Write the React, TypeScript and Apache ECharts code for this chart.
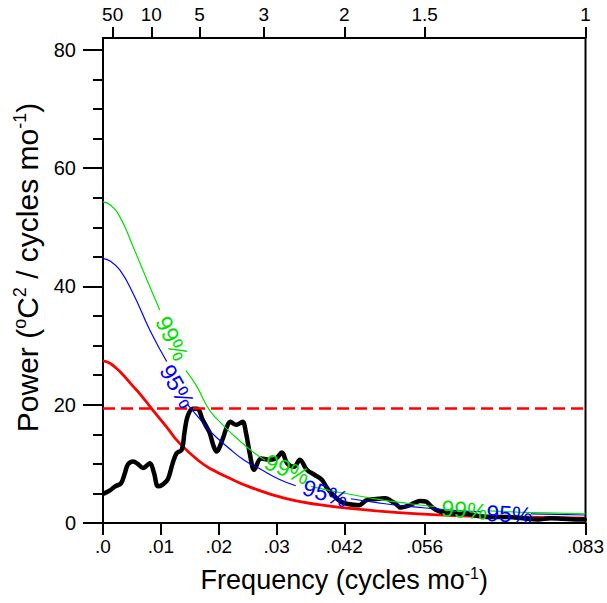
import { useEffect, useRef } from 'react';
import * as echarts from 'echarts';

// ---------- DATA ----------
const freqTickValues = [0, 0.01, 0.02, 0.03, 1 / 24, 1 / 18, 1 / 12];
const freqTickLabels = ['.0', '.01', '.02', '.03', '.042', '.056', '.083'];
const periodTickValues = [1 / 600, 1 / 120, 1 / 60, 1 / 36, 1 / 24, 1 / 18, 1 / 12];
const periodTickLabels = ['50', '10', '5', '3', '2', '1.5', '1'];
const powerMajorTicks = [0, 20, 40, 60, 80];
const powerMinorTicks = [5, 10, 15, 25, 30, 35, 45, 50, 55, 65, 70, 75];

// sample spectrum [frequency, power]
const spectrum: [number, number][] = [
  [0.0002, 5.0], [0.0012, 5.5], [0.0021, 6.2], [0.0031, 6.7], [0.0038, 8.5], [0.0043, 9.9],
  [0.0052, 10.4], [0.0060, 10.0], [0.0069, 9.3], [0.0081, 10.1], [0.0088, 8.5], [0.0095, 6.2],
  [0.0103, 6.5], [0.0112, 7.4], [0.0120, 10.0], [0.0127, 11.8], [0.0136, 12.4], [0.0141, 15.5],
  [0.0146, 18.0], [0.0155, 19.3], [0.0163, 19.3], [0.0172, 17.5], [0.0179, 16.2], [0.0184, 15.3],
  [0.0191, 13.0], [0.0196, 12.1], [0.0206, 14.0], [0.0213, 16.0], [0.0220, 17.1], [0.0230, 16.6],
  [0.0241, 17.1], [0.0247, 15.2], [0.0254, 11.5], [0.0261, 9.0], [0.0273, 10.9], [0.0287, 10.7],
  [0.0299, 10.9], [0.0309, 11.9], [0.0318, 10.1], [0.0330, 9.5], [0.0340, 10.7], [0.0352, 9.0],
  [0.0366, 8.1], [0.0378, 7.3], [0.0387, 5.9], [0.0399, 4.6], [0.0411, 3.6], [0.0423, 3.2],
  [0.0442, 3.0], [0.0454, 3.8], [0.0464, 4.0], [0.0476, 4.1], [0.0488, 4.2], [0.0498, 3.7],
  [0.0505, 3.3], [0.0514, 2.6], [0.0527, 2.9], [0.0538, 3.4], [0.0548, 3.7], [0.0558, 3.6],
  [0.0567, 2.8], [0.0574, 2.3], [0.0584, 1.9], [0.0601, 1.6], [0.0625, 1.6], [0.0648, 1.2],
  [0.0674, 1.0], [0.0699, 1.0], [0.0725, 0.8], [0.0751, 0.6], [0.0773, 0.8], [0.0794, 0.7],
  [0.0816, 0.6], [0.0832, 0.6],
];

// theoretical red-noise spectrum
const redNoise: [number, number][] = [
  [0, 27.4], [0.0012, 27.0], [0.0029, 25.6], [0.0052, 23.1], [0.0064, 21.8], [0.0086, 19.1],
  [0.0110, 16.2], [0.0132, 13.5], [0.0167, 10.4], [0.0189, 9.0], [0.0218, 7.6], [0.0253, 6.1],
  [0.0313, 4.2], [0.0373, 3.1], [0.0418, 2.55], [0.0510, 1.75], [0.0596, 1.3], [0.0682, 1.05],
  [0.0833, 0.8],
];

// 95% confidence curve (null = gap for inline label)
const conf95: ([number, number] | null)[] = [
  [0, 44.7], [0.0012, 44.3], [0.0029, 42.8], [0.0052, 38.8], [0.0081, 32.6], [0.0110, 27.3],
  null,
  [0.0146, 20.0], [0.0167, 17.6], [0.0184, 15.6], [0.0218, 12.6], [0.0244, 10.6], [0.0270, 9.2],
  [0.0304, 7.4], [0.0333, 6.3],
  null,
  [0.0428, 4.1], [0.0476, 3.4], [0.0527, 2.8], [0.0574, 2.4], [0.0613, 2.1], [0.0655, 1.9],
  null,
  [0.0739, 1.55], [0.0785, 1.45], [0.0833, 1.35],
];

// 99% confidence curve
const conf99: ([number, number] | null)[] = [
  [0, 54.3], [0.0012, 53.8], [0.0029, 51.8], [0.0052, 46.7], [0.0076, 41.1], [0.0098, 36.0],
  null,
  [0.0143, 25.8], [0.0162, 23.1], [0.0184, 19.1], [0.0213, 16.0], [0.0235, 14.0], [0.0258, 12.1],
  [0.0280, 10.6],
  null,
  [0.0359, 6.2], [0.0407, 5.2], [0.0476, 4.0], [0.0527, 3.3], [0.0574, 2.75],
  null,
  [0.0668, 2.05], [0.0716, 1.85], [0.0768, 1.7], [0.0833, 1.55],
];

const markovLevel = 19.4;

// inline curve labels
const inlineLabelText = ['99%', '95%', '99%', '95%', '99%', '95%'];
const inlineLabelFreq = [0.01194, 0.0128, 0.0318, 0.0384, 0.0624, 0.0702];
const inlineLabelPower = [31.2, 23.1, 9.1, 5.0, 2.2, 1.5];
const inlineLabelAngle = [64, 60, 22, 17, 5, 3];

const FONT = '"Liberation Sans", Arial, Helvetica, sans-serif';
const GREEN = '#00e000';
const BLUE = '#0000ff';
const RED = '#ff0000';

const toSeriesData = (arr: ([number, number] | null)[]) =>
  arr.map((p) => (p === null ? [null, null] : p));

export default function App() {
  const ref = useRef<HTMLDivElement>(null);

  useEffect(() => {
    document.body.style.margin = '0';
    if (!ref.current) return;
    const chart = echarts.init(ref.current, undefined, { renderer: 'svg' });

    const axisLineStyle = { color: '#000', width: 2 };
    const option: any = {
      animation: false,
      backgroundColor: '#fff',
      grid: {
        left: 103, right: 19, top: 38, bottom: 80,
        show: true, borderColor: '#000', borderWidth: 2, backgroundColor: 'transparent',
      },
      xAxis: [
        {
          type: 'value', position: 'bottom', min: 0, max: 1 / 12,
          axisLine: { show: true, onZero: false, lineStyle: axisLineStyle },
          axisTick: { show: true, customValues: freqTickValues, length: 12, lineStyle: axisLineStyle },
          axisLabel: {
            customValues: freqTickValues, margin: 14, fontSize: 19, color: '#000', fontFamily: FONT,
            showMinLabel: true, showMaxLabel: true,
            formatter: (v: number) => {
              const i = freqTickValues.findIndex((t) => Math.abs(t - v) < 1e-7);
              return i >= 0 ? freqTickLabels[i] : '';
            },
          },
          splitLine: { show: false },
          name: '{t|Frequency (cycles mo}{s|-1}{t|)}',
          nameLocation: 'middle', nameGap: 42,
          nameTextStyle: {
            rich: {
              t: { fontSize: 27, fontFamily: FONT, color: '#000', lineHeight: 30 },
              s: { fontSize: 16, fontFamily: FONT, color: '#000', verticalAlign: 'top', lineHeight: 16 },
            },
          },
        },
        {
          type: 'value', position: 'top', min: 0, max: 1 / 12,
          axisLine: { show: true, onZero: false, lineStyle: axisLineStyle },
          axisTick: { show: true, customValues: periodTickValues, length: 11, lineStyle: axisLineStyle },
          axisLabel: {
            customValues: periodTickValues, margin: 14, fontSize: 19, color: '#000', fontFamily: FONT,
            showMinLabel: true, showMaxLabel: true,
            formatter: (v: number) => {
              const i = periodTickValues.findIndex((t) => Math.abs(t - v) < 1e-7);
              return i >= 0 ? periodTickLabels[i] : '';
            },
          },
          splitLine: { show: false },
        },
      ],
      yAxis: [
        {
          type: 'value', position: 'left', min: 0, max: 82,
          axisLine: { show: true, onZero: false, lineStyle: axisLineStyle },
          axisTick: { show: true, customValues: powerMajorTicks, length: 20, lineStyle: axisLineStyle },
          axisLabel: {
            customValues: powerMajorTicks, margin: 27, fontSize: 20, color: '#000', fontFamily: FONT,
          },
          splitLine: { show: false },
          name: '{t|Power (}{s|o}{t|C}{s|2}{t| / cycles mo}{s|-1}{t|)}',
          nameLocation: 'middle', nameRotate: 90, nameGap: 57,
          nameTextStyle: {
            padding: [0, 0, 0, 26],
            rich: {
              t: { fontSize: 30, fontFamily: FONT, color: '#000', lineHeight: 33 },
              s: { fontSize: 18, fontFamily: FONT, color: '#000', verticalAlign: 'top', lineHeight: 18 },
            },
          },
        },
        {
          type: 'value', position: 'left', min: 0, max: 82,
          axisLine: { show: false },
          axisTick: { show: true, customValues: powerMinorTicks, length: 10, lineStyle: axisLineStyle },
          axisLabel: { show: false },
          splitLine: { show: false },
        },
      ],
      series: [
        {
          name: 'red noise', type: 'line', xAxisIndex: 0, yAxisIndex: 0,
          data: redNoise, smooth: true, symbol: 'none',
          lineStyle: { color: RED, width: 2.8 }, z: 2,
        },
        {
          name: 'spectrum', type: 'line', xAxisIndex: 0, yAxisIndex: 0,
          data: spectrum, smooth: 0.35, symbol: 'none',
          lineStyle: { color: '#000', width: 4.5, join: 'round', cap: 'round' }, z: 3,
        },
        {
          name: '95%', type: 'line', xAxisIndex: 0, yAxisIndex: 0,
          data: toSeriesData(conf95), smooth: true, symbol: 'none', connectNulls: false,
          lineStyle: { color: BLUE, width: 1.2 }, z: 4,
        },
        {
          name: '99%', type: 'line', xAxisIndex: 0, yAxisIndex: 0,
          data: toSeriesData(conf99), smooth: true, symbol: 'none', connectNulls: false,
          lineStyle: { color: GREEN, width: 1.2 }, z: 4,
          markLine: {
            silent: true, symbol: ['none', 'none'], label: { show: false },
            lineStyle: { color: RED, width: 2.6, type: [12, 6] },
            data: [{ yAxis: markovLevel }],
          },
        },
      ],
    };
    chart.setOption(option);

    const graphics = inlineLabelText.map((text, i) => {
      const pt = chart.convertToPixel({ xAxisIndex: 0, yAxisIndex: 0 }, [inlineLabelFreq[i], inlineLabelPower[i]]) as number[];
      return {
        type: 'text',
        x: pt[0], y: pt[1],
        rotation: (-inlineLabelAngle[i] * Math.PI) / 180,
        z: 10,
        style: {
          text,
          fill: text === '99%' ? GREEN : BLUE,
          font: '23px "Liberation Sans", Arial, sans-serif',
          fontSize: 23, fontFamily: FONT,
          align: 'center', verticalAlign: 'middle',
          textAlign: 'center', textVerticalAlign: 'middle',
        },
      };
    });
    chart.setOption({ graphic: graphics });

    return () => chart.dispose();
  }, []);

  return <div ref={ref} style={{ width: 607, height: 603 }} />;
}
